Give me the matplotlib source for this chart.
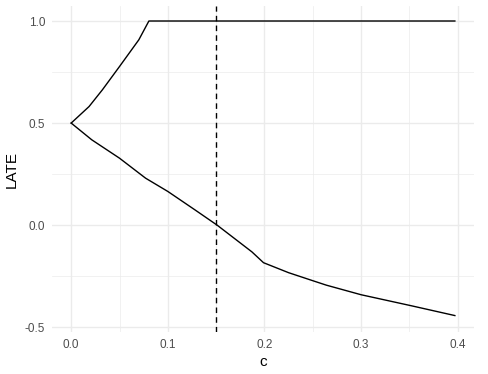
import numpy as np
import matplotlib
matplotlib.use('Agg')
from matplotlib import pyplot as plt

# upper bound on LATE as a function of c
c_upper = [0.0, 0.0185, 0.0323, 0.05, 0.07, 0.0804, 0.15, 0.25, 0.35, 0.397]
late_upper = [0.5, 0.581, 0.663, 0.777, 0.908, 1.0, 1.0, 1.0, 1.0, 1.0]

# lower bound
c_lower = [0.0, 0.0213, 0.05, 0.077, 0.1, 0.128, 0.151, 0.187, 0.199,
           0.225, 0.2505, 0.264, 0.3, 0.352, 0.397]
late_lower = [0.5, 0.418, 0.328, 0.230, 0.165, 0.075, 0.0, -0.131, -0.184,
              -0.233, -0.273, -0.294, -0.341, -0.395, -0.443]

c_cut = 0.15

xticks = [0.0, 0.1, 0.2, 0.3, 0.4]
yticks = [-0.5, 0.0, 0.5, 1.0]

plt.rcParams['font.family'] = ['Liberation Sans', 'DejaVu Sans']

fig = plt.figure(figsize=(4.88, 3.74), dpi=100)
ax = fig.add_axes([52/488, 1 - 332/374, (474-52)/488, (332-6)/374])

ax.plot(c_upper, late_upper, color='black', lw=1.0)
ax.plot(c_lower, late_lower, color='black', lw=1.0)
ax.axvline(c_cut, color='black', lw=1.0, ls=(0, (4, 3)))

ax.set_xlim(-0.01985, 0.4168)
ax.set_ylim(-0.5235, 1.0735)
ax.set_xticks(xticks)
ax.set_xticklabels(['0.0', '0.1', '0.2', '0.3', '0.4'])
ax.set_yticks(yticks)
ax.set_yticklabels(['-0.5', '0.0', '0.5', '1.0'])
ax.set_xticks([0.05, 0.15, 0.25, 0.35], minor=True)
ax.set_yticks([-0.25, 0.25, 0.75], minor=True)

ax.grid(which='major', color='#ebebeb', lw=1.0)
ax.grid(which='minor', color='#ebebeb', lw=0.5)
ax.set_axisbelow(True)
for s in ax.spines.values():
    s.set_visible(False)
ax.tick_params(which='both', length=0, labelsize=8.5, labelcolor='#4d4d4d', pad=5)

ax.set_xlabel('c', fontsize=11, labelpad=3)
ax.set_ylabel('LATE', fontsize=11, labelpad=4)

fig.savefig('out.png', dpi=100, facecolor='white')
